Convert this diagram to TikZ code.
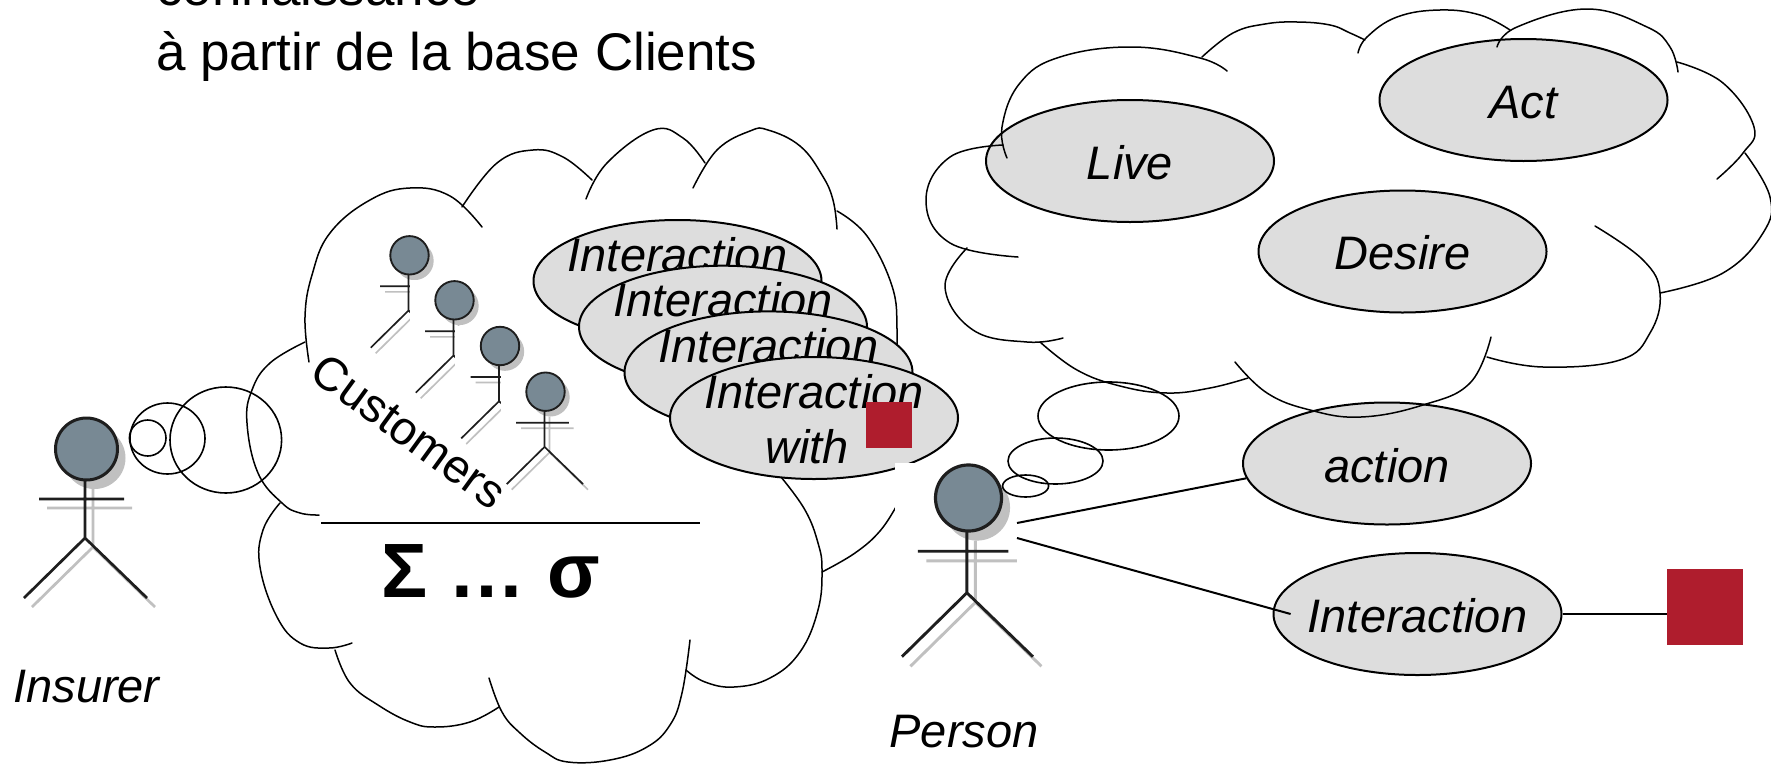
\documentclass[tikz,border=0pt]{standalone}
\usepackage{fontspec}
\setmainfont{Liberation Sans}
\usetikzlibrary{shapes.geometric,calc}
\definecolor{headfill}{RGB}{120,137,148}
\definecolor{shadowgray}{RGB}{192,192,192}
\definecolor{ucfill}{RGB}{221,221,221}
\definecolor{boxred}{RGB}{175,29,45}
\definecolor{actline}{RGB}{30,30,30}
\pgfdeclarelayer{background}
\pgfsetlayers{background,main}
\newcommand\umlactor[4]{%
  \coordinate (#1) at (#2,#3);
  \begin{scope}[shift={(#2,#3)}, scale=#4]
    \begin{scope}[shift={(8,9)}]
      \fill[shadowgray] (0,0) circle[radius=31];
      \draw[shadowgray, line width=#4*2.7pt] (-47.5,50) -- (37.5,50) (-1.5,31) -- (-1.5,89) (-62.5,149) -- (-1.5,89) -- (60.5,149);
    \end{scope}
    \draw[actline, line width=#4*2.7pt] (-47.5,50) -- (37.5,50) (-1.5,31) -- (-1.5,89) (-62.5,149) -- (-1.5,89) -- (60.5,149);
    \draw[actline, fill=headfill, line width=#4*3pt] (0,0) circle[radius=31];
  \end{scope}}
\begin{document}
\begin{tikzpicture}[x=1pt,y=-1pt,
  cloudline/.style={line width=1.5pt, line join=round, line cap=round},
  uc/.style={ellipse, draw, line width=2pt, fill=ucfill, minimum width=288pt, minimum height=122pt, inner sep=0pt},
  ulabel/.style={font=\fontsize{47}{56}\selectfont\itshape, inner sep=0pt, anchor=base},
  conn/.style={line width=2pt},
  bubble/.style={line width=1.6pt},
  redsq/.style={fill=boxred, draw=none, minimum size=#1, inner sep=0pt},
  maintext/.style={anchor=base west, inner sep=0pt, font=\fontsize{53}{64}\selectfont}
]
\useasboundingbox (0,0) rectangle (1771,763);
\clip (0,0) rectangle (1771,763);
\fill[white] (0,0) rectangle (1771,763);

% title text
\node[maintext] (t1) at (156,5) {connaissance};
\node[maintext] (t2) at (156,70) {à partir de la base Clients};

% Insurer
\umlactor{insurer}{86.5}{449}{1}
\node[ulabel] (insurerlbl) at (86.5,702) {Insurer};
\draw[bubble] (147.7,438) ellipse[x radius=18.3, y radius=18];
\draw[bubble] (167.5,438.5) ellipse[x radius=37.5, y radius=35.5];
\draw[bubble] (225.8,440) ellipse[x radius=55.8, y radius=53];

% left cloud
\draw[cloudline] plot[smooth, tension=0.7] coordinates {(309,362) (305,317) (312,275) (330,233) (370,200) (410,188) (450,196) (482,227)};
\draw[cloudline] plot[smooth, tension=0.7] coordinates {(462,207) (497,163) (533,150) (563,157) (592,180)};
\draw[cloudline] plot[smooth, tension=0.7] coordinates {(586,199) (607,163) (653,130) (683,138) (705,163)};
\draw[cloudline] plot[smooth, tension=0.7] coordinates {(693,188) (717,150) (750,131) (768,130) (800,146) (822,175) (833,200) (837,229)};
\draw[cloudline] plot[smooth, tension=0.7] coordinates {(837,211) (867,236) (892,286) (897,329) (895,364) (888,400)};
\draw[cloudline] plot[smooth, tension=0.7] coordinates {(822,572) (855,553) (880,531) (897,505)};
\draw[cloudline] plot[smooth, tension=0.7] coordinates {(781,477) (805,510) (818,543) (822,570) (818,610) (800,652) (770,678) (734,687) (705,682) (686,670)};
\draw[cloudline] plot[smooth, tension=0.7] coordinates {(489,678) (502,712) (520,733) (545,752) (568,762) (610,760) (647,747) (670,725) (682,693) (690,640)};
\draw[cloudline] plot[smooth, tension=0.7] coordinates {(335,650) (350,683) (378,705) (410,722) (435,727) (470,722) (499,707)};
\draw[cloudline] plot[smooth, tension=0.7] coordinates {(280,503) (263,530) (260,567) (277,617) (300,643) (329,648) (352,643)};
\draw[cloudline] plot[smooth, tension=0.7] coordinates {(305,342) (270,363) (252,390) (247,423) (258,473) (282,503) (300,513) (319,515)};

% separator and formula
\coordinate (sepL) at (321,523);
\coordinate (sepR) at (700,523);
\draw[conn] (sepL) -- (sepR);
\node[anchor=base, inner sep=0pt, font=\fontsize{77}{90}\selectfont\bfseries] (formula) at (490.5,597) {Σ … σ};

% customers
\umlactor{cust1}{409.5}{255.3}{0.62}
\fill[white] (409.9,279.8) rectangle (501,402.3);
\umlactor{cust2}{454.5}{300.3}{0.62}
\fill[white] (455.4,325.5) rectangle (546.5,448);
\umlactor{cust3}{500}{346}{0.62}
\fill[white] (500.9,371.2) rectangle (592,493.7);
\umlactor{cust4}{545.5}{391.7}{0.62}

\node[uc] (I1) at (677.5,281) {};
\node[ulabel] (I1t) at (677.5,271) {Interaction};
\node[uc] (I2) at (723,326.7) {};
\node[ulabel] (I2t) at (723,316.7) {Interaction};
\node[uc] (I3) at (768.5,372.4) {};
\node[ulabel] (I3t) at (768.5,362.4) {Interaction};
\node[uc] (I4) at (814,418) {};
\node[ulabel] (I4t) at (814,408) {Interaction};
\node[ulabel] (I4w) at (807,463.5) {with};
\node[redsq=46pt] (sq4) at (889,425) {};

\coordinate (c1) at (500,296.7);
\coordinate (c2) at (545,341.7);
\coordinate (c3) at (591,386.7);
\coordinate (c4) at (594,432.3);
\begin{pgfonlayer}{background}
\draw[conn] (c1) -- (c1 -| I1.west);
\draw[conn] (c2) -- (c2 -| I2.west);
\draw[conn] (c3) -- (c3 -| I3.west);
\draw[conn] (c4) -- (c4 -| I4.west);
\end{pgfonlayer}

\node[inner sep=0pt, rotate=-36, font=\fontsize{47}{56}\selectfont] (custlbl) at (409,431) {Customers};

% Person
\fill[white] (895,463) rectangle (1017,700);
\umlactor{person}{968.5}{498}{1.065}
\node[ulabel] (personlbl) at (964,747) {Person};
\draw[bubble] (1025.6,486) ellipse[x radius=23, y radius=11];
\draw[bubble] (1055.5,461) ellipse[x radius=47.5, y radius=23];
\draw[bubble] (1108.5,416) ellipse[x radius=70.5, y radius=34];

% right use cases
\node[uc] (live) at (1130,161) {};
\node[ulabel] (livet) at (1130,179) {Live};
\node[uc] (act) at (1523.5,100) {};
\node[ulabel] (actt) at (1523.5,118) {Act};
\node[uc] (desire) at (1402.5,251.5) {};
\node[ulabel] (desiret) at (1402.5,269) {Desire};
\node[uc] (action) at (1387,463.5) {};
\node[ulabel] (actiont) at (1387,482) {action};
\node[uc] (inter) at (1417.5,614) {};
\node[ulabel] (intert) at (1417.5,632) {Interaction};
\node[redsq=76pt] (sq) at (1705,607) {};

\coordinate (personA) at (1017,523);
\coordinate (personB) at (1017,538);
\coordinate (interin) at (1290.6,614);
\draw[conn] (personA) -- (action.186);
\draw[conn] (personB) -- (interin);
\draw[conn] (inter.east) -- (inter.east -| sq.west);

% right cloud
\draw[cloudline] plot[smooth, tension=0.7] coordinates {(1007,158) (1002,127) (1020,83) (1060,57) (1133,47) (1200,58) (1227,71)};
\draw[cloudline] plot[smooth, tension=0.7] coordinates {(1202,57) (1233,33) (1265,24) (1297,22) (1330,25) (1350,33) (1365,40)};
\draw[cloudline] plot[smooth, tension=0.7] coordinates {(1358,53) (1367,37) (1397,17) (1440,10) (1480,15) (1510,30)};
\draw[cloudline] plot[smooth, tension=0.7] coordinates {(1497,47) (1517,27) (1587,9) (1647,27) (1670,47) (1678,72)};
\draw[cloudline] plot[smooth, tension=0.7] coordinates {(1677,62) (1723,83) (1754,127) (1743,153) (1717,179)};
\draw[cloudline] plot[smooth, tension=0.7] coordinates {(1745,153) (1770,197) (1763,233) (1723,273) (1660,293)};
\draw[cloudline] plot[smooth, tension=0.7] coordinates {(1595,226) (1643,260) (1660,293) (1650,333) (1620,360) (1543,367) (1487,357)};
\draw[cloudline] plot[smooth, tension=0.7] coordinates {(1491,337) (1470,383) (1423,405) (1361,417) (1310,410) (1267,393) (1235,362)};
\draw[cloudline] plot[smooth, tension=0.7] coordinates {(1040,342) (1077,370) (1120,386) (1167,393) (1210,388) (1248,378)};
\draw[cloudline] plot[smooth, tension=0.7] coordinates {(967,248) (945,287) (973,330) (1027,342) (1063,338)};
\draw[cloudline] plot[smooth, tension=0.7] coordinates {(1003,145) (950,157) (926,200) (950,243) (1018,257)};
\end{tikzpicture}
\end{document}
